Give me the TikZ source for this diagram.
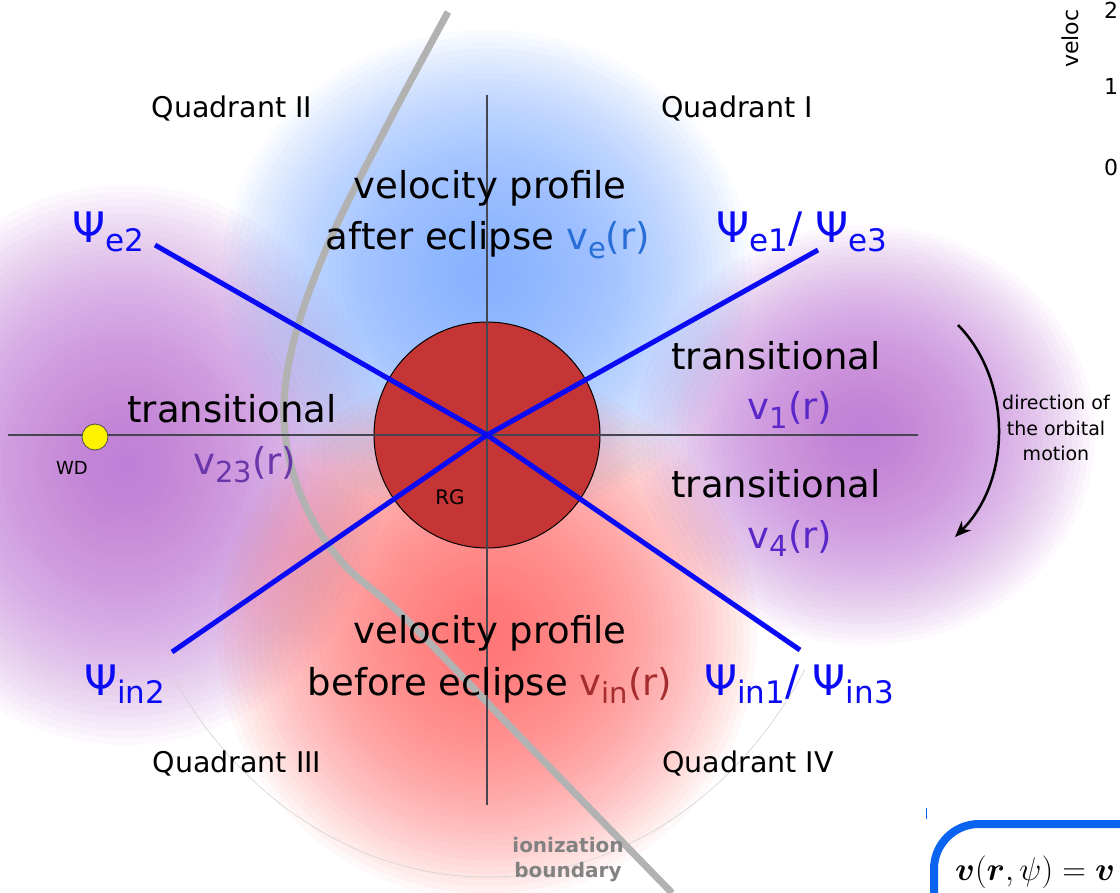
\documentclass[tikz,border=0pt]{standalone}
\usepackage{amsmath}
\usepackage{graphicx}
\usepackage{fontspec}
\setmainfont{DejaVu Sans}
\usetikzlibrary{arrows.meta}
\definecolor{psiblue}{RGB}{10,10,245}
\definecolor{axisgray}{RGB}{70,70,80}
\definecolor{rgred}{RGB}{197,53,53}
\definecolor{blobblue}{RGB}{120,170,255}
\definecolor{blobred}{RGB}{255,100,100}
\definecolor{blobpurple}{RGB}{190,110,215}
\definecolor{vecol}{RGB}{40,110,215}
\definecolor{vincol}{RGB}{165,45,45}
\definecolor{vonecol}{RGB}{90,40,200}
\definecolor{vtwocol}{RGB}{105,55,170}
\definecolor{ionigray}{RGB}{130,130,130}
\definecolor{boxblue}{RGB}{10,100,240}
\newcommand{\lsub}[1]{\raisebox{-0.22em}{\fontsize{29}{29}\selectfont #1}}
\newcommand{\psub}[1]{\raisebox{-0.2em}{\fontsize{31}{31}\selectfont #1}}
\newcommand{\myblob}[5]{%
  \foreach \i in {1,...,40}{%
    \fill[#5, fill opacity=0.045] (#1,#2) ellipse [x radius={#3*\i/40}, y radius={#4*\i/40}];%
  }}
\tikzset{
  big/.style={font=\fontsize{37}{44}\selectfont, inner sep=0pt},
  quad/.style={font=\fontsize{28.5}{32}\selectfont, inner sep=0pt},
  psilab/.style={font=\fontsize{42}{46}\selectfont, text=psiblue, inner sep=0pt},
  psiline/.style={draw=psiblue, line width=5pt},
  axisline/.style={draw=axisgray, line width=1.5pt},
}
\begin{document}
\begin{tikzpicture}[x=1pt,y=-1pt]
\useasboundingbox (0,0) rectangle (1120,893);
\fill[white] (0,0) rectangle (1120,893);
% colour blobs
\myblob{125}{465}{260}{280}{blobpurple}
\myblob{865}{435}{230}{210}{blobpurple}
\myblob{487}{275}{265}{245}{blobblue}
\myblob{487}{635}{270}{265}{blobred}
% faint sector arc
\draw[gray!35, line width=0.6pt] (487,435) ++(-146:375 and -442) arc[start angle=-146, end angle=-32, x radius=375, y radius=-442];
% coordinates
\coordinate (O) at (487,435);
\coordinate (axl) at (8,435);
\coordinate (axr) at (918,435);
\coordinate (axt) at (487,95);
\coordinate (axb) at (487,805);
\coordinate (e2) at (155,245);
\coordinate (e1) at (818,250);
\coordinate (in2) at (172,652);
\coordinate (in1) at (800,650);
% ionization boundary
\draw[gray!60, line width=7pt] plot[smooth, tension=0.6] coordinates {(448,12) (390,120) (330,240) (294,340) (284,420) (300,493) (340,560) (407,620) (530,747) (672,893)};
% axes
\draw[axisline] (axl) -- (axr);
\draw[axisline] (axt) -- (axb);
% RG circle
\node[circle, draw=black, line width=1pt, fill=rgred, minimum size=226pt, inner sep=0pt] (RG) at (O) {};
\draw[axisline] (RG.west) -- (RG.east);
\draw[axisline] (RG.north) -- (RG.south);
\node[font=\fontsize{20}{24}\selectfont, inner sep=0pt] (rgl) at (450,497) {RG};
% psi lines
\draw[psiline] (O) -- (e2);
\draw[psiline] (O) -- (e1);
\draw[psiline] (O) -- (in2);
\draw[psiline] (O) -- (in1);
% WD
\node[circle, draw=black!70, fill=yellow, minimum size=26pt, inner sep=0pt, line width=0.8pt] (WD) at (95,437) {};
\node[font=\fontsize{18}{22}\selectfont, inner sep=0pt] (wdl) at (72,468) {WD};
% quadrant labels
\node[quad, anchor=base] (q2) at (232,118) {Quadrant II};
\node[quad, anchor=base] (q1) at (737,118) {Quadrant I};
\node[quad, anchor=base] (q3) at (237,772) {Quadrant III};
\node[quad, anchor=base] (q4) at (748,772) {Quadrant IV};
% region texts
\node[big, anchor=base] (t1) at (490,199) {velocity profile};
\node[big, anchor=base] (t2) at (488,250) {after eclipse {\color{vecol}v\lsub{e}(r)}};
\node[big, anchor=base] (t3) at (776,370) {transitional};
\node[big, anchor=base, text=vonecol] (t4) at (790,420) {v\lsub{1}(r)};
\node[big, anchor=base] (t5) at (776,497) {transitional};
\node[big, anchor=base, text=vonecol] (t6) at (790,548) {v\lsub{4}(r)};
\node[big, anchor=base] (t7) at (232,423) {transitional};
\node[big, anchor=base, text=vtwocol] (t8) at (245,474) {v\lsub{23}(r)};
\node[big, anchor=base] (t9) at (490,643) {velocity profile};
\node[big, anchor=base] (t10) at (490,695) {before eclipse {\color{vincol}v\lsub{in}(r)}};
% psi labels
\node[psilab, anchor=base west] (pe2) at (72,243) {Ψ\psub{e2}};
\node[psilab, anchor=base west] (pe13) at (716,243) {Ψ\psub{e1}/ Ψ\psub{e3}};
\node[psilab, anchor=base west] (pin2) at (84,695) {Ψ\psub{in2}};
\node[psilab, anchor=base west] (pin13) at (704,695) {Ψ\psub{in1}/ Ψ\psub{in3}};
% orbital direction
\coordinate (ar1) at (958,325);
\coordinate (ar2) at (955,537);
\draw[line width=2.5pt, -{Stealth[length=16pt, width=13pt, inset=5pt]}] (ar1) .. controls (1012,380) and (1012,480) .. (ar2);
\node[font=\fontsize{19}{25.5}\selectfont, align=center, inner sep=0pt] (dir) at (1056,428) {direction of\\the orbital\\motion};
% ionization label
\node[font=\fontsize{20}{25}\selectfont\bfseries, text=ionigray, align=center, inner sep=0pt] (ion) at (568,860) {ionization\\boundary};
% cropped neighbouring figure
\node[font=\fontsize{22}{26}\selectfont, rotate=90, anchor=west, inner sep=0pt] (vel) at (1070,68) {veloc};
\node[font=\fontsize{22}{26}\selectfont, anchor=west, inner sep=0pt] (d2) at (1104,10) {2};
\node[font=\fontsize{22}{26}\selectfont, anchor=west, inner sep=0pt] (d1) at (1104,86) {1};
\node[font=\fontsize{22}{26}\selectfont, anchor=west, inner sep=0pt] (d0) at (1104,167) {0};
% formula box
\draw[boxblue, line width=8pt, rounded corners=45pt] (934,1000) -- (934,824) -- (1200,824);
\draw[boxblue, line width=0.8pt] (926,808) -- (926,819);
\node[anchor=west, inner sep=0pt] (eq) at (955,872) {\scalebox{1.32}{\fontsize{24}{28}\selectfont$\boldsymbol{v}(\boldsymbol{r},\psi) = \boldsymbol{v}$}};
\end{tikzpicture}
\end{document}
